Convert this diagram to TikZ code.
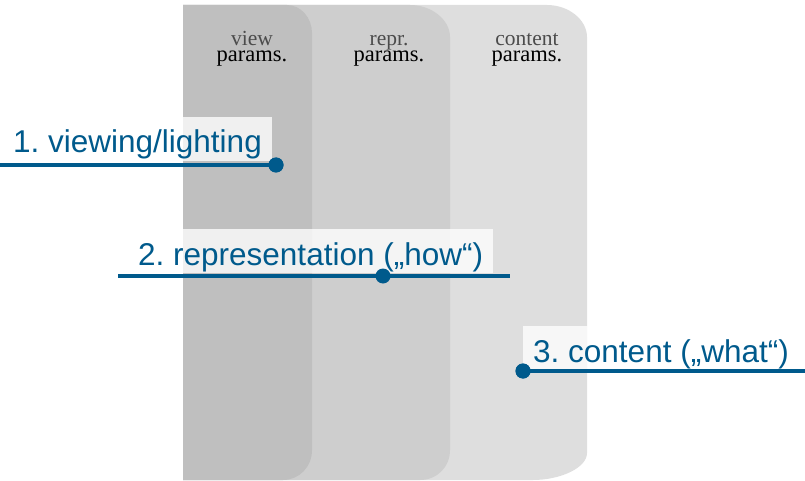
\documentclass[tikz,border=0pt]{standalone}
\usepackage{fontspec}
\setmainfont{Liberation Serif}
\newfontfamily\labelfont{Liberation Sans}
\frenchspacing
\begin{document}
\begin{tikzpicture}[x=1pt,y=-1pt,
  paramtext/.style={font=\fontsize{22.5}{16.5}\selectfont, align=center, inner sep=0pt, anchor=base},
  steplabel/.style={font=\labelfont\fontsize{31.5}{31.5}\selectfont, text=stepblue,
    fill=white, fill opacity=0.78, text opacity=1, inner xsep=10pt, inner ysep=1pt,
    text height=35pt, text depth=7pt, anchor=base west},
  stepline/.style={draw=stepblue, line width=3.6pt},
  stepdot/.style={circle, fill=stepblue, minimum size=15pt, inner sep=0pt}
]
\definecolor{stepblue}{RGB}{0,90,140}
\definecolor{panelA}{RGB}{191,191,191}
\definecolor{panelB}{RGB}{206,206,206}
\definecolor{panelC}{RGB}{222,222,222}
\definecolor{headgray}{RGB}{75,75,75}

\useasboundingbox (0,0) rectangle (805,481);

% three stacked parameter panels, back to front
\fill[panelC] (183,5) -- (547,5) .. controls (569,5) and (587,20) .. (587,37)
  -- (587,453) .. controls (587,468) and (560,480) .. (533,480) -- (183,480) -- cycle;
\fill[panelB] (183,5) -- (410,5) .. controls (432,5) and (450,20) .. (450,37)
  -- (450,450) .. controls (450,467) and (437,480) .. (420,480) -- (183,480) -- cycle;
\fill[panelA] (183,5) -- (287,5) .. controls (301,5) and (312,18) .. (312,33)
  -- (312,450) .. controls (312,467) and (299,480) .. (283,480) -- (183,480) -- cycle;

% panel headings (base anchor = baseline of the second line)
\node[paramtext] (hA) at (252,62) {\textcolor{headgray}{\fontsize{21.5}{16.5}\selectfont view}\\params.};
\node[paramtext] (hB) at (389,62) {\textcolor{headgray}{\fontsize{21.5}{16.5}\selectfont repr.}\\params.};
\node[paramtext] (hC) at (527,62) {\textcolor{headgray}{\fontsize{21.5}{16.5}\selectfont content}\\params.};

% labelled steps
\node[steplabel] (l1) at (3,153) {1. viewing/lighting};
\coordinate (e1) at (0,165);
\node[stepdot] (d1) at (276,165) {};
\draw[stepline] (e1) -- (d1.center);
\node[stepdot] at (276,165) {};

\node[steplabel] (l2) at (128,265) {2. representation („how“)};
\coordinate (e2a) at (118,276);
\coordinate (e2b) at (510,276);
\draw[stepline] (e2a) -- (e2b);
\node[stepdot] (d2) at (383,276) {};

\node[steplabel] (l3) at (523,362) {3. content („what“)};
\coordinate (e3) at (805,371);
\node[stepdot] (d3) at (523,371) {};
\draw[stepline] (d3.center) -- (e3);
\node[stepdot] at (523,371) {};
\end{tikzpicture}
\end{document}
